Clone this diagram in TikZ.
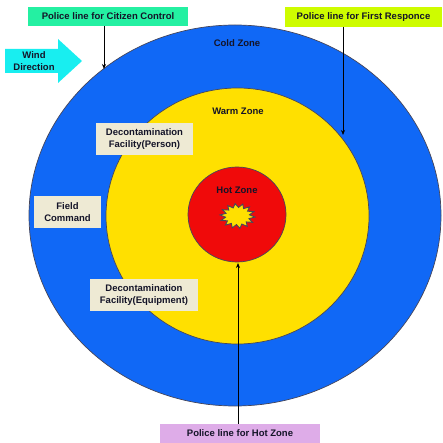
\documentclass[tikz,border=0pt]{standalone}
\usepackage{fontspec}
\setmainfont{Liberation Sans}
\usetikzlibrary{shapes.geometric,arrows.meta}
\definecolor{coldblue}{RGB}{16,104,246}
\definecolor{warmyellow}{RGB}{255,224,0}
\definecolor{hotred}{RGB}{240,10,10}
\definecolor{edgegray}{RGB}{70,70,90}
\definecolor{beige}{RGB}{238,234,212}
\definecolor{mint}{RGB}{36,240,162}
\definecolor{lime}{RGB}{206,252,0}
\definecolor{lav}{RGB}{222,172,232}
\definecolor{windcyan}{RGB}{24,238,240}
\definecolor{txt}{RGB}{20,20,40}
\begin{document}
\begin{tikzpicture}[x=1pt,y=-1pt,
  lbl/.style={font=\bfseries\fontsize{9.5}{12.5}\selectfont, text=txt, align=center, inner sep=0pt},
  boxed/.style={lbl, fill=beige, minimum height=32},
  police/.style={lbl, minimum height=19.5},
  arr/.style={draw=black, line width=0.8pt, -{Stealth[length=5pt,width=4pt]}},
  zone/.style={draw=edgegray, line width=0.7pt}]
\useasboundingbox (0,0) rectangle (442,443);
% zones
\filldraw[zone, fill=coldblue] (235,215.5) ellipse [x radius=206, y radius=190.5];
\filldraw[zone, fill=warmyellow] (237.5,216) ellipse [x radius=131.5, y radius=128];
\filldraw[zone, fill=hotred] (237,214.5) ellipse [x radius=49, y radius=47.5];
\node[star, star points=14, star point ratio=1.45, minimum size=25pt, inner sep=0pt, xscale=1.4, rotate=8,
      fill=warmyellow, draw=edgegray, line width=0.9pt] (burst) at (237.5,216) {};
% zone labels
\node[lbl] (cold) at (237,43) {Cold Zone};
\node[lbl] (warm) at (238,111) {Warm Zone};
\node[lbl] (hot) at (237,190) {Hot Zone};
% facility boxes
\node[boxed, minimum width=97] (dfp) at (144.5,139) {Decontamination\\Facility(Person)};
\node[boxed, minimum width=67] (fc) at (67.5,212) {Field\\Command};
\node[boxed, minimum width=108] (dfe) at (144,295) {Decontamination\\Facility(Equipment)};
% wind arrow
\fill[windcyan] (5,49) -- (58,49) -- (58,39) -- (82,61) -- (58,83) -- (58,73) -- (5,73) -- cycle;
\node[lbl] (wind) at (34,61) {Wind\\Direction};
% police lines
\node[police, fill=mint, minimum width=160] (cc) at (108,16.5) {Police line for Citizen Control};
\node[police, fill=lime, minimum width=157] (fr) at (363.5,17) {Police line for First Responce};
\node[police, fill=lav, minimum width=160] (hz) at (240,433.5) {Police line for Hot Zone};
\coordinate (ccTip) at (104,69);
\coordinate (frTip) at (343,135);
\coordinate (hzTip) at (238,263);
\draw[arr] (cc.south -| ccTip) -- (ccTip);
\draw[arr] (fr.south -| frTip) -- (frTip);
\draw[arr] (hz.north -| hzTip) -- (hzTip);
\end{tikzpicture}
\end{document}
